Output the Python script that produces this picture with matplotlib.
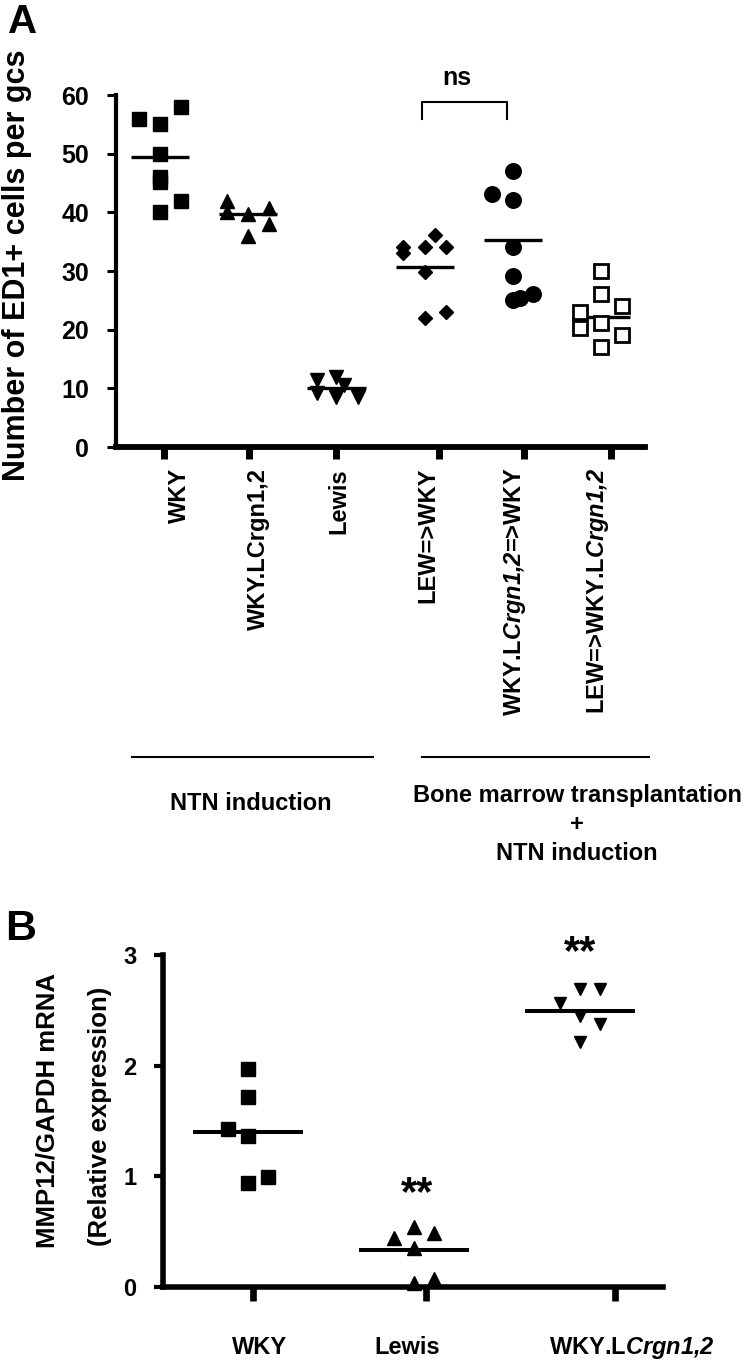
import matplotlib
matplotlib.use("Agg")
import matplotlib.pyplot as plt
from matplotlib.transforms import blended_transform_factory

plt.rcParams['font.family'] = ['Liberation Sans', 'DejaVu Sans']
plt.rcParams['font.weight'] = 'bold'
# math parts are only used for the italic gene names (letters and digits)
plt.rcParams['mathtext.fontset'] = 'custom'
plt.rcParams['mathtext.rm'] = 'Liberation Sans:italic:bold'
plt.rcParams['mathtext.it'] = 'Liberation Sans:italic:bold'
plt.rcParams['mathtext.bf'] = 'Liberation Sans:italic:bold'

# ---------------- panel A data ----------------
labels_a = ['WKY', 'WKY.LCrgn1,2', 'Lewis', 'LEW=>WKY',
            r'WKY.L$\mathit{Crgn1{,}2}$=>WKY', r'LEW=>WKY.L$\mathit{Crgn1{,}2}$']
tick_pos_a = [1.04, 2.01, 2.99, 4.16, 5.13, 6.12]
label_pos_a = [1.22, 2.12, 3.03, 4.04, 5.02, 5.97]
yticks_a = [0, 10, 20, 30, 40, 50, 60]

wky_a = [56, 55, 58, 50, 46, 45.2, 42, 40]
wky_a_dx = [-0.24, 0, 0.24, 0, 0, 0, 0.24, 0]
crgn_a = [42, 40, 39.8, 36, 40.8, 38]
crgn_a_dx = [-0.24, -0.24, 0, 0, 0.24, 0.24]
lewis_a = [11.4, 12.0, 10.6, 9.2, 8.6, 8.6]
lewis_a_dx = [-0.22, 0, 0.09, -0.22, 0, 0.24]
lew_wky_a = [34.1, 33.0, 34.1, 36.1, 34.1, 29.8, 22.0, 23.0]
lew_wky_a_dx = [-0.25, -0.25, 0, 0.12, 0.24, 0, 0, 0.24]
crgn_wky_a = [47.0, 43.1, 42.1, 34.1, 29.1, 26.1, 25.0, 25.4]
crgn_wky_a_dx = [0, -0.24, 0, 0, 0, 0.23, 0, 0.08]
lew_crgn_a = [30.0, 26.1, 24.0, 23.0, 20.3, 21.1, 19.1, 17.0]
lew_crgn_a_dx = [0, 0, 0.24, -0.24, -0.24, 0, 0.24, 0]
means_a = [49.4, 39.7, 10.0, 30.7, 35.3, 22.1]

# ---------------- panel B data ----------------
labels_b = ['WKY', 'Lewis', r'WKY.L$\mathit{Crgn1{,}2}$']
tick_pos_b = [1.03, 2.07, 3.21]
label_pos_b = [1.07, 1.96, 3.31]
yticks_b = [0, 1, 2, 3]

wky_b = [1.97, 1.72, 1.43, 1.36, 0.94, 0.99]
wky_b_dx = [0, 0, -0.12, 0, 0, 0.12]
lewis_b = [0.44, 0.54, 0.49, 0.35, 0.04, 0.07]
lewis_b_dx = [-0.12, 0, 0.12, 0, 0, 0.12]
crgn_b = [2.69, 2.69, 2.57, 2.45, 2.38, 2.21]
crgn_b_dx = [0, 0.12, -0.12, 0, 0.12, 0]
means_b = [1.40, 0.33, 2.49]
stars_b = [(2.02, 0.74), (3.0, 2.92)]

fig = plt.figure(figsize=(7.5, 13.62), dpi=100)

# ================= panel A =================
ax = fig.add_axes([0.1547, 0.6718, 0.7053, 0.2584])
ax.set_xlim(0.5, 6.5)
ax.set_ylim(0, 60)

styles_a = [
    dict(marker='s', ms=9.4, mfc='black', mec='black'),
    dict(marker='^', ms=9.6, mfc='black', mec='black'),
    dict(marker='v', ms=10, mfc='black', mec='black'),
    dict(marker='D', ms=6.8, mfc='black', mec='black'),
    dict(marker='o', ms=11.2, mfc='black', mec='black'),
    dict(marker='s', ms=10.2, mfc='white', mec='black', mew=2),
]
data_a = [(wky_a, wky_a_dx), (crgn_a, crgn_a_dx), (lewis_a, lewis_a_dx),
          (lew_wky_a, lew_wky_a_dx), (crgn_wky_a, crgn_wky_a_dx),
          (lew_crgn_a, lew_crgn_a_dx)]
for i, (vals, dx) in enumerate(data_a):
    xs = [i + 1 + d for d in dx]
    ax.plot(xs, vals, ls='none', zorder=3, clip_on=False, **styles_a[i])
    ax.hlines(means_a[i], i + 1 - 0.33, i + 1 + 0.33, color='black', lw=2.4, zorder=2)

for s in ['top', 'right']:
    ax.spines[s].set_visible(False)
ax.spines['left'].set_linewidth(3)
ax.spines['bottom'].set_linewidth(4.2)
ax.set_yticks(yticks_a)
ax.set_yticklabels([str(v) for v in yticks_a], fontsize=18)
ax.tick_params(axis='y', length=6.5, width=2.2, pad=13)
ax.set_xticks(tick_pos_a)
ax.set_xticklabels([])
ax.tick_params(axis='x', length=8.6, width=5)

bt = blended_transform_factory(ax.transData, fig.transFigure)
for x, lab in zip(label_pos_a, labels_a):
    ax.text(x, 0.6564, lab, transform=bt, rotation=90, ha='center', va='top', fontsize=17)

# significance bracket
ax.plot([3.965, 3.965, 4.94, 4.94], [55.9, 58.8, 58.8, 55.9], color='black', lw=1.5, clip_on=False)
ax.text(4.37, 61.7, 'ns', ha='center', va='baseline', fontsize=18)

# group lines and captions
ax.plot([0.677, 3.42], [0.4442, 0.4442], transform=bt, color='black', lw=1.5, clip_on=False)
ax.plot([3.965, 6.55], [0.4442, 0.4442], transform=bt, color='black', lw=1.5, clip_on=False)
ax.text(2.03, 1 - 810 / 1362, 'NTN induction', transform=bt, ha='center', va='baseline', fontsize=17)
ax.text(5.73, 1 - 802 / 1362, 'Bone marrow transplantation', transform=bt, ha='center', va='baseline', fontsize=17)
ax.text(5.73, 1 - 831 / 1362, '+', transform=bt, ha='center', va='baseline', fontsize=17)
ax.text(5.73, 1 - 860 / 1362, 'NTN induction', transform=bt, ha='center', va='baseline', fontsize=17)

fig.text(17 / 750, 1 - 265 / 1362, 'Number of ED1+ cells per gcs', rotation=90,
         ha='center', va='center', fontsize=22)
fig.text(8 / 750, 1 - 33 / 1362, 'A', ha='left', va='baseline', fontsize=29)

# ================= panel B =================
bx = fig.add_axes([0.2173, 0.05507, 0.6667, 0.2438])
bx.set_xlim(0.488, 3.5)
bx.set_ylim(0, 3)

styles_b = [
    dict(marker='s', ms=9.4, mfc='black', mec='black'),
    dict(marker='^', ms=9.4, mfc='black', mec='black'),
    dict(marker='v', ms=8.6, mfc='black', mec='black'),
]
data_b = [(wky_b, wky_b_dx), (lewis_b, lewis_b_dx), (crgn_b, crgn_b_dx)]
for i, (vals, dx) in enumerate(data_b):
    xs = [i + 1 + d for d in dx]
    bx.plot(xs, vals, ls='none', zorder=3, clip_on=False, **styles_b[i])
    bx.hlines(means_b[i], i + 1 - 0.33, i + 1 + 0.33, color='black', lw=2.9, zorder=2)

for x, y in stars_b:
    bx.text(x, y, '**', ha='center', va='baseline', fontsize=30)

for s in ['top', 'right']:
    bx.spines[s].set_visible(False)
bx.spines['left'].set_linewidth(4)
bx.spines['bottom'].set_linewidth(4)
bx.set_yticks(yticks_b)
bx.set_yticklabels([str(v) for v in yticks_b], fontsize=17)
bx.tick_params(axis='y', length=6.5, width=3, pad=12.5)
bx.set_xticks(tick_pos_b)
bx.set_xticklabels([])
bx.tick_params(axis='x', length=10, width=4.8)

bt2 = blended_transform_factory(bx.transData, fig.transFigure)
for x, lab in zip(label_pos_b, labels_b):
    bx.text(x, 1 - 1354 / 1362, lab, transform=bt2, ha='center', va='baseline', fontsize=17)

fig.text(48 / 750, 1 - 1110 / 1362, 'MMP12/GAPDH mRNA', rotation=90,
         ha='center', va='center', fontsize=18.5)
fig.text(100 / 750, 1 - 1116 / 1362, '(Relative expression)', rotation=90,
         ha='center', va='center', fontsize=18.5)
fig.text(5 / 750, 1 - 940 / 1362, 'B', ha='left', va='baseline', fontsize=31)

fig.savefig('out.png', dpi=100)
